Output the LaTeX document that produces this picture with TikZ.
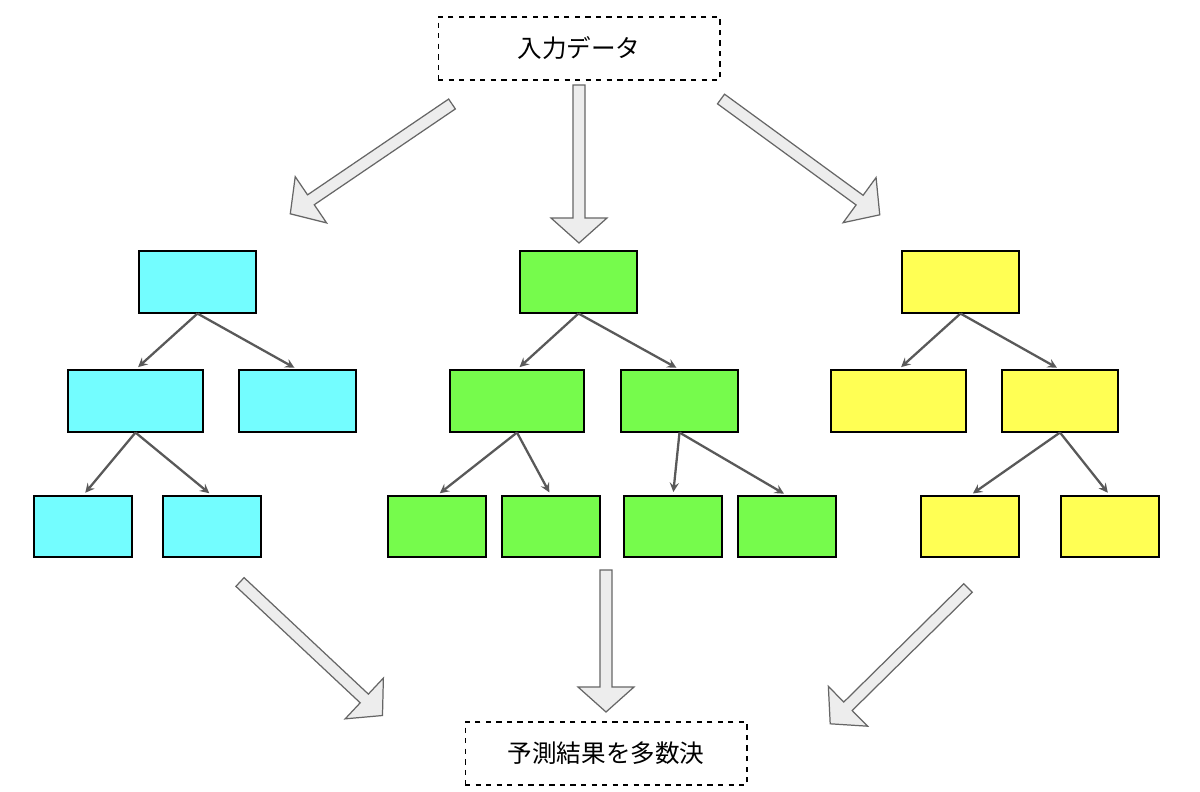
\documentclass[tikz,border=0pt]{standalone}
\usepackage{fontspec}
\setmainfont{Noto Sans CJK JP}
\usetikzlibrary{calc}
\definecolor{cy}{HTML}{73FDFF}
\definecolor{gr}{HTML}{76FB4C}
\definecolor{ye}{HTML}{FFFF54}
\begin{document}
\begin{tikzpicture}[x=0.02cm,y=-0.02cm,
 box/.style={draw=black,line width=0.6pt,inner sep=0pt},
 lbl/.style={draw=black,dashed,line width=0.6pt,inner sep=0pt,font=\fontsize{14}{16}\selectfont},
 ed/.style={draw=black!65,line width=1.3pt,-stealth,shorten >=2pt},
 big/.style={draw=black!60,fill=black!7,line width=0.7pt,line join=miter}]
\useasboundingbox (0,0) rectangle (1200,791);
\newcommand\mybox[6]{\node[box,fill=#6,minimum width={(#3-#2)*0.02cm},minimum height={(#5-#4)*0.02cm}] (#1) at ({(#2+#3)/2},{(#4+#5)/2}) {};}
\newcommand\bigarr[4]{\draw[big] let \p1=($(#3,#4)-(#1,#2)$), \n1={atan2(\y1,\x1)}, \n2={veclen(\x1,\y1)} in
 [shift={(#1,#2)},rotate=\n1] (0pt,-3.4pt)--({\n2-14.2pt},-3.4pt)--({\n2-14.2pt},-15.9pt)--(\n2,0pt)--({\n2-14.2pt},15.9pt)--({\n2-14.2pt},3.4pt)--(0pt,3.4pt)--cycle;}
\node[lbl,minimum width=5.64cm,minimum height=1.26cm] (in) at (579,48.5) {入力データ};
\node[lbl,minimum width=5.64cm,minimum height=1.26cm] (out) at (606,753.5) {予測結果を多数決};
% cyan
\mybox{c0}{139}{256}{251}{313}{cy}
\mybox{c1}{68}{203}{370}{432}{cy}
\mybox{c2}{239}{356}{370}{432}{cy}
\mybox{c3}{34}{132}{496}{557}{cy}
\mybox{c4}{163}{261}{496}{557}{cy}
% green
\mybox{g0}{520}{637}{251}{313}{gr}
\mybox{g1}{450}{584}{370}{432}{gr}
\mybox{g2}{621}{738}{370}{432}{gr}
\mybox{g3}{388}{486}{496}{557}{gr}
\mybox{g4}{502}{600}{496}{557}{gr}
\mybox{g5}{624}{722}{496}{557}{gr}
\mybox{g6}{738}{836}{496}{557}{gr}
% yellow
\mybox{y0}{902}{1019}{251}{313}{ye}
\mybox{y1}{831}{966}{370}{432}{ye}
\mybox{y2}{1002}{1118}{370}{432}{ye}
\mybox{y3}{921}{1019}{496}{557}{ye}
\mybox{y4}{1061}{1159}{496}{557}{ye}
\foreach \a/\b in {c0/c1,c0/c2,c1/c3,c1/c4,g0/g1,g0/g2,g1/g3,g1/g4,g2/g5,g2/g6,y0/y1,y0/y2,y2/y3,y2/y4}
  \draw[ed] (\a.south) -- (\b.north);
\bigarr{452}{104}{290}{214}
\bigarr{579}{85}{579}{243}
\bigarr{721}{99}{880}{215}
\bigarr{240}{582}{383}{716}
\bigarr{606}{570}{606}{712}
\bigarr{968}{588}{830}{724}
\end{tikzpicture}
\end{document}
